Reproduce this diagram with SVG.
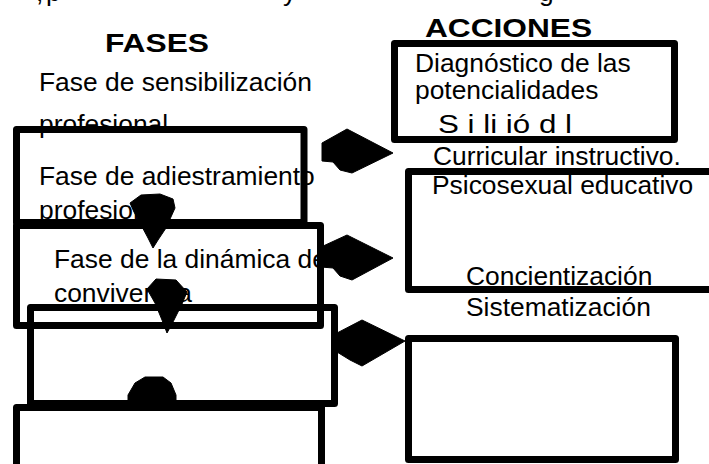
<svg xmlns="http://www.w3.org/2000/svg" width="709" height="464" viewBox="0 0 709 464">
<style>
text{font-family:"Liberation Sans",Arial,sans-serif;fill:#000;font-size:26.4px}
.h{font-weight:bold}
.box{fill:none;stroke:#000;stroke-width:7;stroke-linejoin:round}
.arr{fill:#000;stroke:#000;stroke-width:1;stroke-linejoin:round}
</style>
<rect width="709" height="464" fill="#fff"/>
<g id="clipped-line"><text x="36" y="1">,</text><text x="46" y="1">p</text><text x="283" y="1">y</text><text x="539" y="1">g</text></g>
<text class="h" x="105" y="52" font-size="31" textLength="104" lengthAdjust="spacingAndGlyphs">FASES</text>
<text class="h" x="425" y="37" font-size="32" textLength="167" lengthAdjust="spacingAndGlyphs">ACCIONES</text>
<g id="fase1">
<text x="39" y="91">Fase de sensibilización</text>
<text x="39" y="133">profesional</text>
<rect class="box" x="16.5" y="129.5" width="287.5" height="93"/>
</g>
<g id="fase2">
<text x="39" y="185">Fase de adiestramiento</text>
<text x="39" y="219">profesional</text>
<rect class="box" x="16.5" y="225.5" width="304" height="100"/>
</g>
<g id="fase3">
<text x="54" y="268">Fase de la dinámica de</text>
<text x="54" y="302">convivencia</text>
<rect class="box" x="30.5" y="307.5" width="304" height="96"/>
</g>
<g id="fase4">
<rect class="box" x="16.5" y="407.5" width="305" height="100"/>
</g>
<g id="accion1">
<rect class="box" x="394.5" y="43.5" width="280" height="96"/>
<text x="415" y="72">Diagnóstico de las</text>
<text x="415" y="99">potencialidades</text>
<text x="438" y="133" font-size="29.5" textLength="134" lengthAdjust="spacingAndGlyphs">S i li ió d l</text>
</g>
<g id="accion2">
<text x="433" y="165">Curricular instructivo.</text>
<rect class="box" x="408.5" y="171.5" width="320" height="118"/>
<text x="432" y="194">Psicosexual educativo</text>
</g>
<g id="accion3">
<text x="466" y="285">Concientización</text>
<text x="466" y="316">Sistematización</text>
<rect class="box" x="408.5" y="338.5" width="267" height="121"/>
</g>
<g id="connectors">
<polygon class="arr" points="322,143 347,129 393,153 352,173 340,170 333,162 322,161"/>
<polygon class="arr" points="321,247 347,235 393,258 352,280 340,276 333,268 321,267"/>
<polygon class="arr" points="337,333 362,320 405,341 362,366 350,360 337,352"/>
<polygon class="arr" points="130,203 141,195 160,194 173,199 175,208 166,228 158,240 153,248 148,238 140,223 134,212"/>
<polygon class="arr" points="147,289 156,279 176,280 187,292 182,304 173,322 167,333 162,320 155,303"/>
<polygon class="arr" points="128,395 135,383 145,377 163,377 171,383 176,395 176,404 128,404"/>
</g>
</svg>
